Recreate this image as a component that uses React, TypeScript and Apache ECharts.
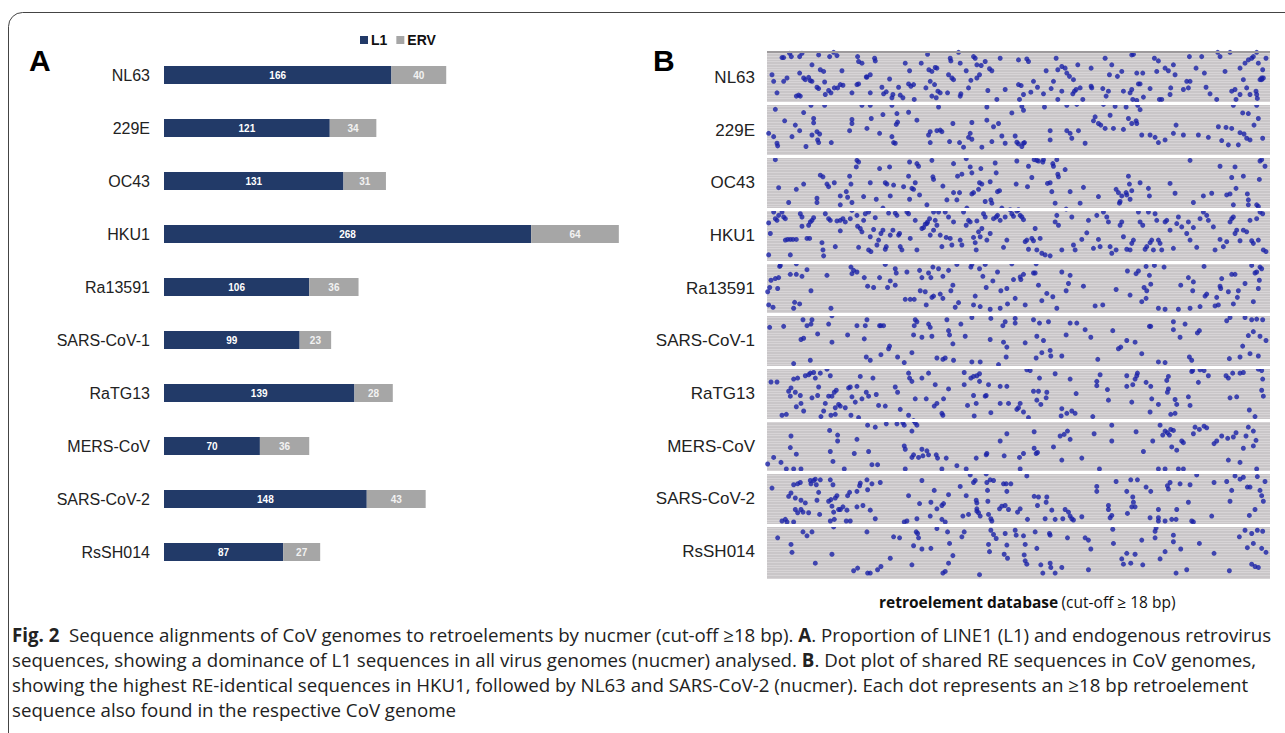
import React, { useEffect, useRef } from "react";
import * as echarts from "echarts";

const categories = ["NL63", "229E", "OC43", "HKU1", "Ra13591", "SARS-CoV-1", "RaTG13", "MERS-CoV", "SARS-CoV-2", "RsSH014"];
const l1Values = [166, 121, 131, 268, 106, 99, 139, 70, 148, 87];
const ervValues = [40, 34, 31, 64, 36, 23, 28, 36, 43, 27];

// Dot plot: [database position (relative), depth within genome lane (0-160)]
const dotsNL63 = [[65,20],[70,20],[88,7],[93,17],[118,17],[125,7],[155,42],[175,12],[180,57],[190,62],[208,17],[220,4],[230,14],[245,60],[292,17],[295,32],[305,37],[343,22],[345,30],[330,72],[320,79],[388,85],[435,37],[448,60],[483,37],[502,10],[506,57],[515,62],[530,52],[525,50],[570,22],[572,30],[595,4],[600,37],[618,60],[640,17],[645,22],[650,42],[663,44],[675,32],[688,54],[695,60],[720,22],[775,27],[800,24],[805,32],[858,60],[888,22],[893,57],[905,47],[915,52],[920,67],[928,77],[940,87],[953,42],[993,52],[1035,22],[1055,42],[1048,72],[1072,77],[1085,62],[1115,12],[1120,10],[1130,67],[1148,67],[1183,22],[1195,30],[1190,62],[1215,52],[1225,60],[1245,72],[1240,42],[1288,17],[1308,52],[1325,17],[1333,67],[1373,4],[1380,17],[1410,4],[1395,62],[1440,52],[1455,37],[1465,27],[1475,22],[1480,17],[1490,4],[1495,37],[1508,57],[1518,22],[1510,82],[1505,87],[35,72],[40,92],[50,127],[70,92],[80,82],[108,137],[118,67],[130,82],[135,87],[145,80],[150,90],[155,92],[170,110],[175,114],[193,94],[195,132],[205,120],[212,127],[222,112],[232,112],[240,102],[248,104],[275,127],[290,102],[295,100],[318,79],[330,127],[365,110],[370,130],[378,124],[398,132],[395,142],[420,134],[428,142],[415,110],[445,100],[452,107],[460,102],[462,147],[497,112],[510,92],[515,137],[523,102],[528,142],[533,122],[540,127],[562,127],[565,72],[575,82],[580,87],[600,137],[602,130],[625,112],[632,89],[650,82],[658,72],[683,120],[710,147],[735,117],[775,102],[778,147],[783,105],[790,132],[812,125],[820,92],[832,110],[850,130],[873,114],[880,92],[893,147],[905,122],[938,130],[943,122],[948,117],[960,112],[968,147],[993,107],[995,112],[1028,114],[1038,137],[1045,122],[1090,122],[1110,127],[1115,117],[1118,147],[1130,150],[1135,100],[1140,100],[1150,140],[1170,114],[1198,147],[1205,147],[1232,112],[1230,132],[1270,117],[1280,92],[1285,112],[1290,92],[1338,110],[1350,130],[1370,147],[1415,122],[1425,117],[1428,147],[1440,132],[1460,112],[1470,132],[1488,122],[1490,132],[1492,144],[1450,87],[1500,87],[1505,82],[120,137],[115,134]];
const dots229E = [[45,17],[25,90],[40,100],[50,120],[52,128],[73,52],[95,100],[105,65],[118,82],[130,27],[137,130],[152,5],[155,95],[160,45],[160,58],[170,85],[172,110],[175,118],[178,92],[193,5],[213,118],[268,82],[275,48],[275,60],[305,5],[320,75],[330,5],[333,45],[358,90],[368,33],[395,5],[395,100],[400,118],[405,120],[408,63],[412,56],[410,30],[445,26],[470,50],[505,95],[510,85],[510,118],[530,82],[540,80],[545,85],[535,10],[568,115],[578,60],[598,118],[610,132],[625,102],[630,90],[635,108],[635,57],[665,132],[680,10],[680,50],[695,115],[700,70],[715,60],[725,98],[735,120],[755,28],[765,98],[770,117],[775,122],[785,130],[790,120],[790,20],[793,118],[785,8],[853,10],[870,82],[870,110],[920,82],[920,5],[930,90],[935,105],[950,2],[955,82],[975,120],[1000,52],[1005,40],[1015,60],[1022,65],[1030,2],[1035,75],[1050,35],[1060,75],[1065,8],[1090,78],[1098,10],[1105,45],[1115,60],[1130,60],[1128,52],[1133,5],[1140,18],[1145,95],[1170,95],[1185,102],[1195,118],[1215,110],[1240,90],[1248,65],[1270,95],[1315,95],[1345,102],[1375,70],[1385,112],[1398,72],[1405,125],[1415,75],[1420,5],[1435,125],[1440,88],[1448,28],[1452,92],[1465,30],[1460,105],[1470,110],[1482,65],[1495,45],[1490,5],[1508,105]];
const dotsOC43 = [[45,10],[55,95],[85,140],[108,100],[130,84],[170,127],[170,140],[180,57],[188,62],[200,84],[205,92],[222,80],[240,120],[240,147],[258,107],[262,124],[268,60],[272,84],[275,140],[290,12],[288,32],[295,17],[310,122],[330,80],[348,130],[358,37],[368,157],[375,80],[380,84],[388,32],[390,120],[400,87],[430,92],[445,60],[448,17],[448,130],[455,97],[460,100],[465,80],[470,22],[475,30],[478,117],[500,147],[515,12],[518,62],[520,70],[548,90],[560,132],[580,110],[580,22],[590,132],[592,60],[598,110],[605,54],[618,7],[620,157],[630,32],[635,50],[635,114],[640,110],[655,100],[658,80],[662,37],[665,84],[675,137],[690,77],[692,132],[695,142],[705,20],[708,50],[712,107],[718,104],[725,157],[768,84],[770,14],[805,30],[802,92],[815,64],[822,10],[830,12],[835,14],[850,10],[848,17],[862,82],[870,80],[875,107],[878,22],[880,30],[885,142],[890,10],[893,54],[895,62],[915,40],[918,160],[930,107],[960,142],[970,94],[1015,122],[1068,100],[1075,110],[1078,142],[1080,137],[1085,120],[1098,110],[1100,117],[1105,60],[1108,84],[1110,130],[1115,104],[1140,80],[1165,97],[1168,120],[1230,82],[1245,112],[1290,12],[1300,140],[1330,120],[1355,112],[1380,30],[1400,117],[1410,114],[1415,64],[1420,147],[1425,32],[1428,97],[1450,60],[1462,114],[1465,132],[1465,147],[1495,152],[1498,70],[1500,14],[1505,10],[1515,30],[1490,147]];
const dotsHKU1 = [[25,42],[30,74],[40,9],[45,29],[50,34],[55,19],[65,9],[70,24],[75,29],[75,94],[82,92],[90,92],[98,92],[108,92],[120,14],[125,52],[140,89],[148,89],[150,39],[155,34],[160,26],[145,49],[25,139],[90,139],[125,24],[185,102],[188,124],[190,142],[195,14],[205,29],[210,34],[225,114],[230,36],[240,34],[248,29],[255,39],[240,66],[270,29],[275,4],[290,19],[292,52],[295,116],[300,59],[305,69],[310,34],[315,14],[325,9],[325,124],[330,84],[332,129],[340,62],[345,26],[350,109],[355,94],[362,74],[368,64],[375,122],[378,114],[385,12],[390,79],[398,64],[405,12],[410,19],[415,79],[418,74],[420,114],[425,124],[440,9],[445,14],[450,89],[465,34],[470,124],[485,59],[490,56],[495,46],[500,44],[502,39],[508,29],[510,79],[520,9],[520,64],[525,34],[530,49],[535,9],[540,79],[545,114],[555,9],[558,86],[565,24],[570,89],[575,109],[580,39],[600,94],[605,109],[610,9],[618,49],[625,34],[630,39],[640,86],[645,102],[648,124],[650,36],[655,69],[660,84],[665,59],[670,14],[675,24],[680,94],[690,74],[700,29],[708,24],[712,19],[720,34],[730,116],[735,24],[740,94],[750,2],[755,14],[760,22],[770,6],[775,2],[780,19],[785,24],[790,32],[795,99],[800,94],[805,122],[815,89],[820,96],[825,59],[830,124],[840,89],[845,134],[855,139],[870,142],[885,39],[890,19],[895,49],[905,124],[935,24],[940,109],[945,124],[965,92],[980,72],[985,34],[1000,119],[1010,19],[1015,92],[1020,114],[1030,9],[1040,24],[1045,39],[1050,114],[1055,134],[1068,124],[1080,49],[1085,39],[1090,84],[1100,122],[1110,124],[1115,104],[1120,94],[1135,9],[1140,39],[1148,49],[1155,122],[1160,114],[1165,9],[1170,102],[1175,94],[1180,124],[1185,14],[1190,34],[1195,94],[1200,104],[1205,124],[1215,39],[1220,34],[1230,64],[1240,119],[1250,44],[1255,24],[1265,54],[1280,74],[1285,39],[1290,94],[1300,56],[1310,116],[1320,29],[1330,9],[1340,19],[1345,34],[1360,54],[1365,124],[1380,92],[1390,114],[1400,99],[1410,39],[1415,29],[1420,24],[1425,74],[1430,64],[1440,96],[1450,64],[1460,69],[1470,34],[1475,96],[1480,104],[1490,29],[1495,94],[1500,9],[1508,14],[1510,124],[1518,129]];
const dotsRa13591 = [[22,91],[28,78],[32,56],[25,131],[38,138],[45,51],[52,81],[55,48],[58,14],[60,11],[90,38],[100,141],[103,123],[108,6],[108,38],[118,128],[125,44],[140,24],[152,88],[200,41],[212,141],[272,16],[275,36],[280,26],[290,31],[312,48],[322,74],[340,78],[358,48],[375,8],[382,78],[390,58],[405,21],[408,34],[405,71],[435,114],[440,31],[450,114],[462,114],[478,26],[480,88],[485,48],[495,91],[498,131],[505,34],[512,48],[518,16],[515,108],[520,104],[535,21],[540,98],[548,111],[548,44],[565,26],[572,88],[578,71],[585,138],[590,8],[595,124],[632,16],[635,8],[640,131],[645,104],[658,21],[660,136],[668,44],[675,8],[678,78],[690,144],[698,58],[712,31],[720,141],[722,88],[740,81],[742,128],[755,6],[760,54],[765,111],[780,46],[782,54],[790,38],[795,131],[820,34],[825,34],[828,6],[835,71],[845,118],[860,96],[878,106],[890,141],[905,31],[918,88],[925,66],[930,41],[970,74],[1005,134],[1028,131],[1068,84],[1102,28],[1110,101],[1128,36],[1135,28],[1145,121],[1152,78],[1158,111],[1160,88],[1158,14],[1168,41],[1172,68],[1183,11],[1195,141],[1212,16],[1215,144],[1255,144],[1262,71],[1290,141],[1285,48],[1300,61],[1298,88],[1320,136],[1332,14],[1335,104],[1340,98],[1365,134],[1370,108],[1375,131],[1380,74],[1382,81],[1385,51],[1405,91],[1415,38],[1420,128],[1425,38],[1432,108],[1435,88],[1455,66],[1475,11],[1480,121],[1485,34],[1490,31],[1495,81],[1498,56],[1500,16],[1505,21]];
const dotsSARS1 = [[28,39],[70,36],[128,16],[140,34],[152,29],[155,16],[122,76],[130,72],[150,139],[100,149],[172,59],[205,29],[215,4],[215,84],[262,62],[290,34],[312,74],[315,34],[320,16],[318,129],[330,139],[358,34],[362,34],[370,34],[362,122],[385,104],[388,96],[412,129],[432,146],[455,116],[460,62],[462,34],[465,16],[470,22],[485,69],[505,29],[510,39],[515,66],[530,132],[548,136],[555,132],[560,16],[565,49],[568,62],[578,89],[580,139],[602,29],[615,66],[635,9],[635,144],[660,144],[690,76],[692,12],[715,152],[730,84],[738,129],[740,99],[728,34],[735,22],[765,12],[765,26],[795,86],[820,16],[828,132],[830,66],[838,26],[845,116],[850,79],[865,22],[870,109],[872,126],[905,126],[918,62],[930,26],[950,26],[975,46],[992,69],[1013,136],[1058,49],[1075,104],[1082,99],[1100,79],[1125,84],[1145,119],[1168,36],[1172,36],[1195,144],[1215,146],[1240,22],[1240,46],[1260,69],[1275,29],[1288,129],[1295,139],[1312,56],[1318,49],[1400,19],[1410,9],[1408,134],[1440,129],[1448,96],[1455,9],[1465,64],[1470,119],[1475,16],[1480,52],[1490,14],[1495,126],[1500,66],[1508,16],[1518,79]];
const dotsRaTG13 = [[32,45],[50,45],[65,146],[78,143],[85,73],[90,88],[92,63],[100,36],[105,76],[108,120],[112,33],[120,86],[122,110],[130,133],[135,26],[145,23],[150,18],[155,93],[160,16],[165,33],[172,86],[175,60],[180,18],[182,150],[190,133],[195,110],[200,6],[205,88],[210,26],[212,146],[215,88],[222,76],[225,143],[228,70],[225,123],[235,113],[240,118],[255,123],[265,63],[270,60],[272,146],[275,90],[285,106],[290,58],[295,153],[300,28],[305,96],[318,76],[325,88],[338,33],[348,83],[355,116],[375,118],[405,60],[412,76],[420,128],[445,18],[445,146],[448,33],[455,43],[465,96],[485,33],[498,96],[505,18],[522,118],[525,53],[530,110],[545,140],[550,96],[548,146],[565,66],[612,16],[612,53],[622,116],[632,33],[640,28],[650,26],[658,20],[640,86],[642,148],[648,110],[658,43],[675,88],[678,86],[685,53],[692,138],[720,58],[720,110],[740,58],[745,110],[770,128],[775,123],[780,110],[790,136],[800,8],[810,10],[805,153],[820,73],[830,100],[835,73],[838,33],[842,113],[858,93],[860,76],[885,20],[903,148],[905,126],[920,140],[930,36],[935,133],[945,140],[948,80],[998,150],[1010,43],[1010,56],[1020,23],[1042,68],[1045,100],[1100,26],[1100,58],[1115,106],[1118,53],[1125,36],[1130,26],[1132,18],[1158,46],[1170,136],[1172,58],[1175,96],[1195,113],[1220,40],[1225,28],[1222,76],[1225,66],[1232,143],[1245,140],[1245,98],[1250,113],[1285,90],[1290,116],[1295,13],[1298,10],[1315,46],[1320,8],[1332,10],[1345,26],[1398,26],[1405,33],[1418,18],[1410,93],[1430,90],[1440,18],[1450,16],[1468,130],[1485,150],[1495,6],[1505,10],[1508,36],[1505,70],[1510,88]];
const dotsMERS = [[22,134],[40,114],[62,129],[78,149],[92,49],[90,84],[100,149],[108,104],[122,149],[208,32],[210,96],[218,126],[232,46],[232,64],[252,149],[282,102],[290,59],[322,16],[325,96],[335,136],[345,22],[352,136],[378,12],[410,12],[428,9],[432,16],[432,79],[435,89],[435,149],[455,34],[460,2],[465,9],[470,16],[455,114],[460,106],[475,114],[485,89],[488,109],[500,94],[505,106],[528,106],[532,116],[545,149],[558,116],[590,139],[618,149],[648,116],[678,106],[680,102],[720,64],[732,109],[740,42],[778,114],[790,102],[780,149],[822,36],[822,86],[832,99],[828,102],[880,82],[900,49],[905,122],[912,44],[922,34],[930,59],[965,116],[1002,42],[1018,149],[1055,16],[1055,64],[1128,36],[1150,96],[1178,64],[1200,16],[1208,46],[1215,34],[1222,39],[1228,46],[1232,29],[1240,32],[1235,82],[1250,92],[1265,64],[1270,69],[1300,42],[1305,22],[1318,29],[1332,19],[1340,24],[1362,72],[1370,64],[1385,49],[1403,56],[1405,122],[1420,52],[1428,39],[1440,129],[1450,86],[1458,49],[1465,22],[1480,34],[1480,79],[1488,62],[1490,149],[1270,149],[1255,149],[1215,149],[1195,149]];
const dotsSARS2 = [[35,47],[65,147],[75,142],[80,150],[85,72],[92,62],[100,37],[100,150],[105,77],[105,112],[112,34],[112,122],[120,30],[122,84],[122,112],[128,120],[135,92],[145,122],[150,24],[152,34],[160,24],[165,20],[168,37],[170,84],[175,60],[178,127],[180,22],[205,87],[210,22],[210,147],[212,82],[215,102],[218,37],[220,120],[222,142],[225,77],[230,70],[235,112],[240,112],[248,104],[258,147],[260,114],[262,70],[268,60],[270,147],[290,57],[290,104],[298,40],[300,32],[308,100],[320,22],[322,52],[330,114],[335,34],[345,140],[360,30],[432,150],[440,147],[445,70],[470,140],[478,94],[485,24],[510,132],[512,90],[522,54],[530,110],[545,100],[545,142],[550,94],[555,150],[565,67],[600,42],[608,132],[618,70],[625,127],[630,7],[640,30],[645,24],[648,84],[650,92],[650,110],[650,117],[655,122],[660,132],[678,4],[680,30],[682,54],[683,87],[685,127],[690,22],[692,140],[695,147],[700,24],[718,110],[725,102],[730,34],[735,100],[738,34],[740,57],[745,112],[752,34],[772,120],[780,110],[800,10],[802,142],[822,72],[832,100],[835,74],[855,140],[858,90],[860,74],[875,114],[885,142],[908,140],[915,112],[925,120],[930,132],[935,140],[940,144],[965,134],[1010,42],[1010,57],[1045,100],[1045,112],[1050,137],[1055,130],[1068,27],[1100,57],[1102,124],[1112,22],[1115,104],[1118,74],[1120,90],[1125,104],[1132,22],[1158,44],[1170,137],[1172,57],[1195,112],[1195,137],[1195,147],[1215,147],[1222,40],[1225,50],[1230,30],[1235,142],[1250,112],[1248,142],[1260,34],[1285,90],[1290,37],[1295,147],[1300,150],[1310,7],[1355,132],[1362,30],[1400,27],[1410,87],[1415,54],[1425,10],[1440,20],[1450,14],[1462,44],[1470,44],[1468,130],[1485,112],[1492,12],[1500,54],[1505,70],[1510,87],[1515,27]];
const dotsRsSH014 = [[52,38],[92,58],[95,82],[128,20],[140,32],[155,20],[165,115],[215,88],[220,5],[280,138],[292,130],[320,20],[322,145],[330,145],[352,135],[362,125],[390,100],[400,35],[418,38],[455,120],[460,62],[468,20],[472,25],[475,38],[485,72],[512,70],[530,10],[548,145],[555,140],[562,20],[568,55],[565,115],[578,92],[605,35],[612,20],[658,150],[685,58],[688,80],[692,15],[700,28],[708,40],[732,88],[735,25],[740,60],[742,100],[765,15],[768,30],[790,32],[795,58],[792,90],[795,108],[800,118],[825,20],[830,70],[842,120],[848,145],[868,25],[870,30],[870,115],[872,128],[885,145],[905,128],[922,38],[975,38],[985,45],[992,72],[985,135],[1058,12],[1060,55],[1085,102],[1090,118],[1100,85],[1112,115],[1125,88],[1145,45],[1148,120],[1185,18],[1185,38],[1188,8],[1200,102],[1215,80],[1240,30],[1240,50],[1248,145],[1262,72],[1280,135],[1318,55],[1362,85],[1408,138],[1438,35],[1455,15],[1462,68],[1475,25],[1475,118],[1480,55],[1485,125],[1492,15],[1495,128],[1505,70],[1508,18],[1518,82]];

const laneDots = [dotsNL63, dots229E, dotsOC43, dotsHKU1, dotsRa13591, dotsSARS1, dotsRaTG13, dotsMERS, dotsSARS2, dotsRsSH014];
const LANE = 160;

export default function App() {
  const ref = useRef<HTMLDivElement>(null);
  useEffect(() => {
    document.body.style.margin = "0";
    const chart = echarts.init(ref.current!, null, { renderer: "svg" });
    const scatterData: number[][] = [];
    laneDots.forEach((lane, i) => lane.forEach(([x, d]) => scatterData.push([x, i * LANE + d])));
    const sepLines = categories.slice(1).map((_, i) => ({ yAxis: (i + 1) * LANE }));
    const font = "Liberation Sans, Arial, sans-serif";
    const capFont = "'Open Sans', sans-serif";
    chart.setOption({
      animation: false,
      backgroundColor: "#ffffff",
      legend: {
        data: ["L1", "ERV"],
        left: 355,
        top: 28,
        itemWidth: 8,
        itemHeight: 8,
        itemGap: 9,
        icon: "rect",
        textStyle: { fontFamily: font, fontWeight: "bold", fontSize: 14, color: "#111", padding: [0, 0, 0, -2] },
      },
      grid: [
        { left: 164, top: 48.5, width: 548, height: 530, outerBoundsMode: "none" },
        { left: 767, top: 51, width: 503, height: 527, show: true, backgroundColor: "#c9c6c8", borderWidth: 0, outerBoundsMode: "none" },
      ],
      xAxis: [
        { type: "value", gridIndex: 0, min: 0, max: 400, show: false },
        { type: "value", gridIndex: 1, min: 20, max: 1530, show: false },
      ],
      yAxis: [
        {
          type: "category", gridIndex: 0, data: categories, inverse: true, position: "left",
          axisLine: { show: false }, axisTick: { show: false },
          axisLabel: { fontFamily: font, fontSize: 16, color: "#222", margin: 14 },
        },
        {
          type: "value", gridIndex: 1, min: 0, max: 1600, interval: 8, inverse: true, position: "left",
          axisLine: { show: false }, axisTick: { show: false }, axisLabel: { show: false },
          splitLine: { show: true, lineStyle: { color: "#d7d4d6", width: 1 } },
        },
        {
          type: "category", gridIndex: 1, data: categories, inverse: true, position: "left",
          axisLine: { show: false }, axisTick: { show: false },
          axisLabel: { fontFamily: font, fontSize: 17, color: "#222", margin: 12 },
        },
      ],
      series: [
        {
          name: "L1", type: "bar", stack: "t", xAxisIndex: 0, yAxisIndex: 0, barWidth: 18,
          data: l1Values, itemStyle: { color: "#223a68" },
          label: { show: true, position: "inside", color: "#fff", fontSize: 10, fontWeight: "bold", fontFamily: font },
        },
        {
          name: "ERV", type: "bar", stack: "t", xAxisIndex: 0, yAxisIndex: 0, barWidth: 18,
          data: ervValues, itemStyle: { color: "#a6a6a6" },
          label: { show: true, position: "inside", color: "#f2f2f2", fontSize: 10, fontWeight: "bold", fontFamily: font },
        },
        {
          name: "dots", type: "scatter", xAxisIndex: 1, yAxisIndex: 1, symbolSize: 5,
          data: scatterData, itemStyle: { color: "#1a22a8" }, silent: true,
          markLine: {
            silent: true, symbol: "none", label: { show: false },
            lineStyle: { color: "#ffffff", width: 3, type: "solid" },
            data: sepLines,
          },
        },
        {
          name: "top", type: "scatter", xAxisIndex: 1, yAxisIndex: 1, data: [], silent: true,
          markLine: {
            silent: true, symbol: "none", label: { show: false },
            lineStyle: { color: "#9d9a9c", width: 2, type: "solid" },
            data: [{ yAxis: 1 }],
          },
        },
      ],
      graphic: [
        { type: "rect", shape: { x: 8.5, y: 12.5, width: 1320, height: 760, r: 14 }, style: { fill: "none", stroke: "#444", lineWidth: 1 }, silent: true },
        { type: "text", left: 29, top: 45, style: { text: "A", font: `bold 30px ${font}`, fill: "#000" } },
        { type: "text", left: 653, top: 45, style: { text: "B", font: `bold 30px ${font}`, fill: "#000" } },
        {
          type: "text", left: 879, top: 594,
          style: {
            text: "{b|retroelement database} {r|(cut-off ≥ 18 bp)}",
            rich: {
              b: { fontFamily: capFont, fontWeight: "bold", fontSize: 15.5, fill: "#111" },
              r: { fontFamily: capFont, fontSize: 15.5, fill: "#111" },
            },
          },
        },
        {
          type: "text", left: 12, top: 622,
          style: {
            text: [
              "{b|Fig. 2}  Sequence alignments of CoV genomes to retroelements by nucmer (cut-off ≥18 bp). {b|A}. Proportion of LINE1 (L1) and endogenous retrovirus",
              "sequences, showing a dominance of L1 sequences in all virus genomes (nucmer) analysed. {b|B}. Dot plot of shared RE sequences in CoV genomes,",
              "showing the highest RE-identical sequences in HKU1, followed by NL63 and SARS-CoV-2 (nucmer). Each dot represents an ≥18 bp retroelement",
              "sequence also found in the respective CoV genome",
            ].join("\n"),
            fontFamily: capFont, fontSize: 18.7, lineHeight: 25, fill: "#222",
            rich: {
              b: { fontFamily: capFont, fontWeight: "bold", fontSize: 18.7, lineHeight: 25, fill: "#222" },
            },
          },
        },
      ],
    });
    return () => chart.dispose();
  }, []);
  return <div ref={ref} style={{ width: 1285, height: 733 }} />;
}
